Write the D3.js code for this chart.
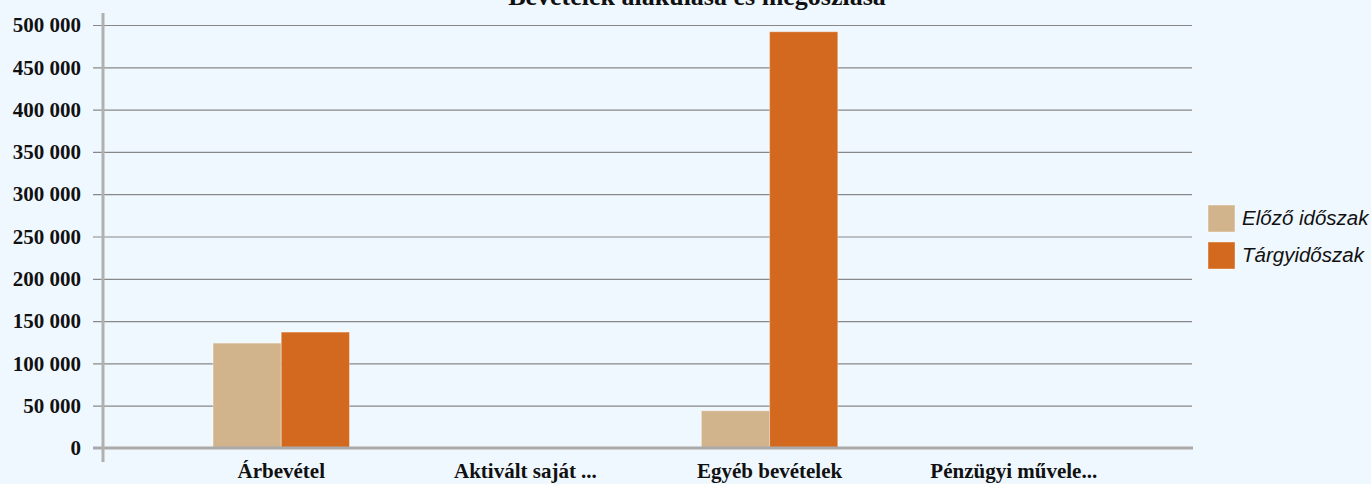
<!DOCTYPE html>
<html>
<head>
<meta charset="utf-8">
<script src="https://cdn.jsdelivr.net/npm/d3@7"></script>
<style>
	body { margin: 0; background: #f0f8ff; }
	svg { display: block; }
</style>
</head>
<body>
<div id="chart"></div>
<script>
"use strict";

var categories = ["Árbevétel", "Aktivált saját ...", "Egyéb bevételek", "Pénzügyi művele..."];
var seriesNames = ["Előző időszak", "Tárgyidőszak"];
var prevValues = [124000, 0, 44000, 0];
var currValues = [137000, 0, 492000, 0];
var yTicks = [0, 50000, 100000, 150000, 200000, 250000, 300000, 350000, 400000, 450000, 500000];
var colors = ["#d2b48c", "#d2691e"];

var chartTitle = "Bevételek alakulása és megoszlása";

//
// Setup Variables
//
var canvasWidth = 1371;
var canvasHeight = 484;
var plotLeft = 103, plotRight = 1192, plotTop = 25, plotBottom = 448;

var data = categories.map(function(c, i) {
	return { label: c, values: [prevValues[i], currValues[i]] };
});

var x = d3.scaleBand()
	.domain(categories)
	.range([plotLeft, plotRight])
	.paddingOuter(0.23)
	.paddingInner(0);

var x1 = d3.scaleBand()
	.domain([0, 1])
	.range([0, x.bandwidth()])
	.paddingOuter(0.79)
	.paddingInner(0);

var y = d3.scaleLinear()
	.domain([0, 500000])
	.range([plotBottom, plotTop]);

var fmt = function(v) { return d3.format(",")(v).replace(/,/g, " "); };

//
// Draw Canvas
//
var svg = d3.select("#chart")
	.append("svg")
		.attr("width", canvasWidth)
		.attr("height", canvasHeight);

svg.append("rect")
	.attr("width", canvasWidth)
	.attr("height", canvasHeight)
	.attr("fill", "#f0f8ff");

//
// Title (clipped at the top edge, as in the original)
//
svg.append("text")
	.attr("x", 697)
	.attr("y", 5)
	.attr("text-anchor", "middle")
	.style("font", "bold 26px 'Liberation Serif', serif")
	.attr("fill", "#111")
	.text(chartTitle);

//
// Gridlines + Y-Axis
//
var yAxis = d3.axisLeft(y)
	.tickValues(yTicks)
	.tickSize(-(plotRight - plotLeft))
	.tickPadding(12)
	.tickFormat(fmt);

var gy = svg.append("g")
	.attr("id", "y_axis")
	.attr("transform", "translate(" + plotLeft + ",0)")
	.call(yAxis);

gy.select(".domain").remove();
gy.selectAll(".tick line")
	.attr("x1", -10)
	.attr("stroke", "#888")
	.attr("stroke-width", 1.2);
gy.selectAll(".tick text")
	.attr("x", -22)
	.style("font", "bold 21px 'Liberation Serif', serif")
	.attr("fill", "#111");

//
// Draw Bars
//
var groups = svg.selectAll(".group")
	.data(data)
  .enter().append("g")
	.attr("class", "group")
	.attr("transform", function(d) { return "translate(" + x(d.label) + ",0)"; });

groups.selectAll("rect")
	.data(function(d) { return d.values; })
  .enter().append("rect")
	.attr("x", function(d, i) { return x1(i); })
	.attr("width", x1.bandwidth())
	.attr("y", function(d) { return y(d); })
	.attr("height", function(d) { return plotBottom - y(d); })
	.attr("fill", function(d, i) { return colors[i]; })
	.attr("stroke", "rgba(255,255,255,0.35)")
	.attr("stroke-width", 1);

//
// Axis lines
//
svg.append("line")
	.attr("x1", plotLeft - 10).attr("x2", plotRight + 1)
	.attr("y1", plotBottom).attr("y2", plotBottom)
	.attr("stroke", "#aaa")
	.attr("stroke-width", 3);

svg.append("line")
	.attr("x1", plotLeft).attr("x2", plotLeft)
	.attr("y1", 13).attr("y2", 462)
	.attr("stroke", "#b0b0b0")
	.attr("stroke-width", 3);

//
// X labels
//
var xAxis = d3.axisBottom(x).tickSize(0).tickPadding(0);
var gx = svg.append("g")
	.attr("id", "x_axis")
	.attr("transform", "translate(0," + plotBottom + ")")
	.call(xAxis);
gx.select(".domain").remove();
gx.selectAll(".tick text")
	.attr("y", 30)
	.attr("dy", 0)
	.style("font", "bold 21px 'Liberation Serif', serif")
	.attr("fill", "#111");

//
// Legend
//
var legend = svg.selectAll(".legend")
	.data(seriesNames)
  .enter().append("g")
	.attr("class", "legend")
	.attr("transform", function(d, i) { return "translate(1208," + (205 + i * 37) + ")"; });

legend.append("rect")
	.attr("width", 27)
	.attr("height", 27)
	.attr("fill", function(d, i) { return colors[i]; })
	.attr("stroke", "rgba(255,255,255,0.4)");

legend.append("text")
	.attr("x", 34)
	.attr("y", 20)
	.style("font", "italic 20.5px 'Liberation Sans', Arial, sans-serif")
	.attr("fill", "#111")
	.text(function(d) { return d; });
</script>
</body>
</html>
